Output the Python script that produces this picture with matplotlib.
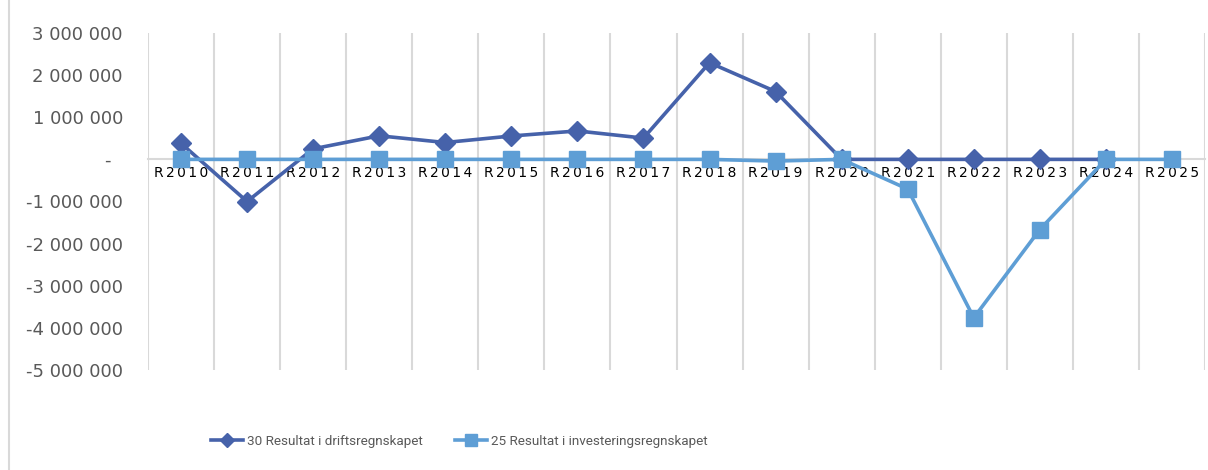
import numpy as np
import matplotlib.pyplot as plt
from matplotlib.lines import Line2D
from matplotlib.ticker import FixedLocator, FuncFormatter

# --- data ---
years = ["R2010", "R2011", "R2012", "R2013", "R2014", "R2015", "R2016", "R2017",
         "R2018", "R2019", "R2020", "R2021", "R2022", "R2023", "R2024", "R2025"]
drift = [380000, -1000000, 250000, 560000, 400000, 555000, 675000, 505000,
         2295000, 1610000, 0, 0, 0, 0, 0, np.nan]
invest = [0, 0, 0, 0, 0, 0, 0, 0, 0, -40000, 0, -705000, -3760000, -1665000, 0, 0]
label_drift = "30 Resultat i driftsregnskapet"
label_invest = "25 Resultat i investeringsregnskapet"

DARK = "#4662AA"
LIGHT = "#5E9ED5"
GRID = "#D9D9D9"
TXT = "#595959"

fig = plt.figure(figsize=(12.08, 4.70), dpi=100)
ax = fig.add_axes([148 / 1208, 1 - 370 / 470, (1205 - 148) / 1208, (370 - 33) / 470])

x = np.arange(len(years))
ax.plot(x, drift, color=DARK, lw=2.6, marker="D", ms=10, zorder=3)
ax.plot(x, invest, color=LIGHT, lw=2.6, marker="s", ms=12, zorder=4)

ax.set_xlim(-0.5, len(years) - 0.5)
ax.set_ylim(-5000000, 3000000)

# category gridlines between the years
ax.xaxis.set_minor_locator(FixedLocator(np.arange(-0.5, len(years), 1.0)))
ax.grid(True, which="minor", axis="x", color=GRID, lw=1.5)
ax.tick_params(axis="x", which="both", length=0, pad=5)
ax.set_xticks(x)
# letter-spaced category labels like in the source chart
ax.set_xticklabels(["\u2006".join(y) for y in years], fontsize=11.5, color=TXT)

def fmt(v, pos):
    if abs(v) < 1:
        return "-  "
    return f"{int(v):,}".replace(",", " ")

ax.set_yticks(np.arange(-5000000, 3000001, 1000000))
ax.yaxis.set_major_formatter(FuncFormatter(fmt))
ax.tick_params(axis="y", length=0, pad=18, labelsize=13, labelcolor=TXT)

for s in ["top", "right", "left"]:
    ax.spines[s].set_visible(False)
ax.spines["bottom"].set_position(("data", 0))
ax.spines["bottom"].set_color(GRID)
ax.spines["bottom"].set_linewidth(1.5)
ax.spines["bottom"].set_zorder(1)

# chart border on the left
fig.add_artist(Line2D([9 / 1208, 9 / 1208], [0, 1], color=GRID, lw=1.5))

handles = [Line2D([], [], color=DARK, lw=2.6, marker="D", ms=7),
           Line2D([], [], color=LIGHT, lw=2.6, marker="s", ms=9)]
fig.legend(handles, [label_drift, label_invest], loc="center left",
           bbox_to_anchor=(199 / 1208, 1 - 441 / 470), ncol=2, frameon=False,
           prop={"family": "Roboto", "size": 9.7},
           labelcolor=TXT, handlelength=2.4, handletextpad=0.25, columnspacing=2.4)

fig.savefig("out.png", dpi=100)
